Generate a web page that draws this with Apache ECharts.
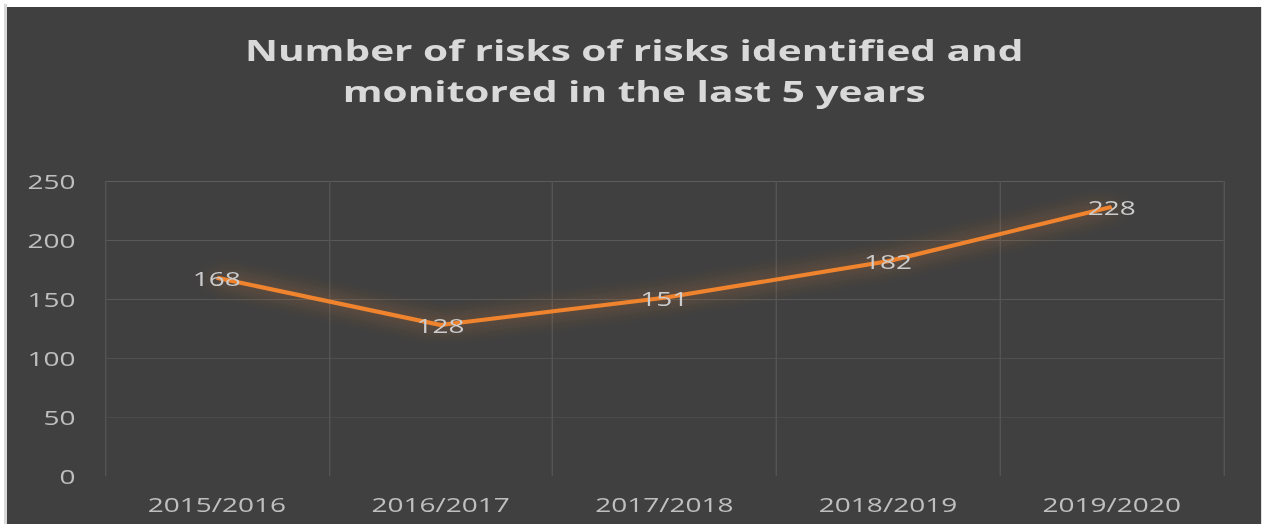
<!DOCTYPE html>
<html><head><meta charset="utf-8">
<script src="https://cdn.jsdelivr.net/npm/echarts@6/dist/echarts.min.js"></script>
<style>
html,body{margin:0;padding:0;background:#ffffff;width:1262px;height:524px;overflow:hidden;}
#frame{position:absolute;left:4px;top:4px;width:3px;height:520px;background:#d9d9d9;}
#c{position:absolute;left:7px;top:7px;width:896px;height:517px;transform:scaleX(1.4);transform-origin:0 0;}
</style></head>
<body><div id="frame"></div><div id="c"></div>
<script>
const titleText = "Number of risks of risks identified and\nmonitored in the last 5 years";
const categories = ["2015/2016","2016/2017","2017/2018","2018/2019","2019/2020"];
const values = [168,128,151,182,228];
const yTicks = {min:0, max:250, interval:50};

const chart = echarts.init(document.getElementById('c'), null, {renderer:'svg'});
chart.setOption({
  backgroundColor:'#404040',
  animation:false,
  title:{
    text:titleText, left:'center', top:17,
    textStyle:{color:'#d9d9d9', fontFamily:'Open Sans', fontWeight:'bold', fontSize:29, lineHeight:41}
  },
  grid:{left:70, right:27, top:174, bottom:48},
  xAxis:{
    type:'category', data:categories, boundaryGap:true,
    axisLine:{show:false}, axisTick:{show:false},
    splitLine:{show:true, lineStyle:{width:1, color:'#545454'}},
    axisLabel:{color:'#bfbfbf', fontFamily:'Open Sans', fontSize:20, margin:18, interval:0}
  },
  yAxis:{
    type:'value', min:yTicks.min, max:yTicks.max, interval:yTicks.interval,
    axisLine:{show:false}, axisTick:{show:false},
    splitLine:{lineStyle:{width:1, color:['rgba(0,0,0,0)','#4a4a4a','#505050','#575757','#595959','#5c5c5c']}},
    axisLabel:{color:'#bfbfbf', fontFamily:'Open Sans', fontSize:20, margin:21}
  },
  series:[{
    type:'line', data:values, symbol:'circle', symbolSize:1, showSymbol:true,
    itemStyle:{color:'rgba(0,0,0,0)'},
    lineStyle:{color:'#f0832d', width:4, shadowBlur:18, shadowColor:'rgba(240,131,45,0.8)'},
    label:{show:true, position:'inside', color:'#cccccc', fontFamily:'Open Sans', fontSize:20}
  }]
});
</script></body></html>
